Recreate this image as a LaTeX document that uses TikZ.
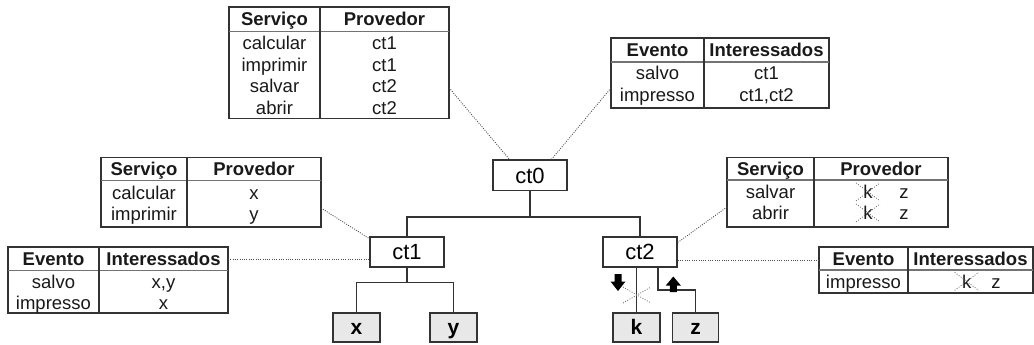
\documentclass[tikz,border=0pt]{standalone}
\usepackage{fontspec}
\setmainfont{Liberation Sans}
\usetikzlibrary{calc}
\newcommand{\mktable}[7]{%
  \node[tblframe, minimum width={(#4-#2)*1pt}, minimum height={(#7-#5)*1pt}] (#1) at ({(#2+#4)/2},{(#5+#7)/2}) {};
  \draw[hdrline] (#2,#6) -- (#4,#6);
  \draw[tblline] (#3,#5) -- (#3,#7);
}
\newcommand{\crossk}[2]{%
  \draw[cross] ({#1-12},{#2-9}) -- ({#1+12},{#2+9});
  \draw[cross] ({#1-12},{#2+9}) -- ({#1+12},{#2-9});
}
\begin{document}
\begin{tikzpicture}[x=1pt,y=-1pt,
  tblframe/.style={draw=black!80, line width=1.1pt, inner sep=0pt, outer sep=0pt},
  hdrline/.style={draw=black!55, line width=1.8pt},
  tblline/.style={draw=black!80, line width=1.1pt},
  hcell/.style={font=\fontsize{18.5}{20}\selectfont\bfseries, text=black!90, anchor=base, inner sep=0pt},
  bcell/.style={font=\fontsize{18.5}{20}\selectfont, text=black!90, anchor=base, inner sep=0pt},
  ctbox/.style={draw=black!80, line width=1.1pt, fill=white, minimum width=74pt, minimum height=30pt, inner sep=0pt, outer sep=0pt, text height=15.75pt, text depth=0pt, font=\fontsize{22}{24}\selectfont},
  leaf/.style={draw=black!80, line width=1.1pt, fill=black!9, minimum width=47pt, minimum height=29pt, inner sep=0pt, outer sep=0pt, text height=13pt, text depth=0pt, font=\fontsize{21}{23}\selectfont\bfseries},
  tree/.style={draw=black!80, line width=1.1pt},
  conn/.style={draw=black!70, line width=0.9pt, dash pattern=on 0.9pt off 1.4pt},
  cross/.style={draw=black!60, line width=0.8pt, dash pattern=on 0.9pt off 1.6pt},
  arr/.style={fill=black}]
\useasboundingbox (0,0) rectangle (1034,345);

% ---------- tables ----------
\mktable{T1}{229}{320}{449}{7}{31.5}{118.5}
\node[hcell] (T1h1) at (274.5,25.9) {Serviço};
\node[hcell] (T1h2) at (384.5,25.9) {Provedor};
\node[bcell] (T1a1) at (274.5,49.5) {calcular};
\node[bcell] (T1b1) at (384.5,49.5) {ct1};
\node[bcell] (T1a2) at (274.5,71) {imprimir};
\node[bcell] (T1b2) at (384.5,71) {ct1};
\node[bcell] (T1a3) at (274.5,92.5) {salvar};
\node[bcell] (T1b3) at (384.5,92.5) {ct2};
\node[bcell] (T1a4) at (274.5,114) {abrir};
\node[bcell] (T1b4) at (384.5,114) {ct2};

\mktable{T2}{611}{704}{829}{38}{62}{108}
\node[hcell] (T2h1) at (657.5,56.6) {Evento};
\node[hcell] (T2h2) at (766.5,56.6) {Interessados};
\node[bcell] (T2a1) at (657.5,80) {salvo};
\node[bcell] (T2b1) at (766.5,80) {ct1};
\node[bcell] (T2a2) at (657.5,101.5) {impresso};
\node[bcell] (T2b2) at (766.5,101.5) {ct1,ct2};

\mktable{T3}{101}{187}{321}{157.5}{180.5}{227}
\node[hcell] (T3h1) at (144,175.6) {Serviço};
\node[hcell] (T3h2) at (254,175.6) {Provedor};
\node[bcell] (T3a1) at (144,199) {calcular};
\node[bcell] (T3b1) at (254,199) {x};
\node[bcell] (T3a2) at (144,220) {imprimir};
\node[bcell] (T3b2) at (254,220) {y};

\mktable{T4}{727}{814}{948}{157.5}{180}{227}
\node[hcell] (T4h1) at (770.5,175.3) {Serviço};
\node[hcell] (T4h2) at (881,175.3) {Provedor};
\node[bcell] (T4a1) at (770.5,198.5) {salvar};
\node[bcell] (T4k1) at (868,198.5) {k};
\node[bcell] (T4z1) at (904,198.5) {z};
\node[bcell] (T4a2) at (770.5,219.5) {abrir};
\node[bcell] (T4k2) at (868,219.5) {k};
\node[bcell] (T4z2) at (904,219.5) {z};
\crossk{868}{191.9}
\crossk{868}{212.9}

\mktable{T5}{8}{99}{228}{247}{270.5}{313}
\node[hcell] (T5h1) at (53.5,265.3) {Evento};
\node[hcell] (T5h2) at (163.5,265.3) {Interessados};
\node[bcell] (T5a1) at (53.5,288.5) {salvo};
\node[bcell] (T5b1) at (163.5,288.5) {x,y};
\node[bcell] (T5a2) at (53.5,309.5) {impresso};
\node[bcell] (T5b2) at (163.5,309.5) {x};

\mktable{T6}{819}{908}{1033}{247}{270}{293}
\node[hcell] (T6h1) at (863.5,265) {Evento};
\node[hcell] (T6h2) at (970.5,265) {Interessados};
\node[bcell] (T6a1) at (863.5,288) {impresso};
\node[bcell] (T6k1) at (966.7,288) {k};
\node[bcell] (T6z1) at (996,288) {z};
\crossk{966.7}{281.4}

% ---------- tree nodes ----------
\node[ctbox, minimum height=30.5pt] (ct0) at (530,175.25) {ct0};
\node[ctbox] (ct1) at (407,252) {ct1};
\node[ctbox] (ct2) at (640,252) {ct2};
\node[leaf] (leafx) at (356.5,327.5) {x};
\node[leaf] (leafy) at (453.5,327.5) {y};
\node[leaf] (leafk) at (636.5,327.5) {k};
\node[leaf, minimum width=46pt] (leafz) at (695.5,327.5) {z};

% ---------- tree connectors ----------
\draw[tree] (ct0.south) -- ++(0,26.5) coordinate (j0);
\draw[tree] (ct1.north) |- (j0) -| (ct2.north);
\draw[tree] (ct1.south) -- ++(0,15.5) coordinate (j1);
\draw[tree] (leafx.north) |- (j1) -| (leafy.north);
\draw[tree] (ct2.south -| leafk.north) -- (leafk.north);
\draw[tree] ([xshift=18pt]ct2.south) -- ++(0,23) -| (leafz.north);

% crossed-out link to k
\draw[cross] (623,287) -- (651,303);
\draw[cross] (623,303) -- (651,287);

% arrows
\fill[arr] (614.5,274) -- (621.5,274) -- (621.5,281.5) -- (625.5,281.5) -- (618,291) -- (610.5,281.5) -- (614.5,281.5) -- cycle;
\fill[arr] (673.3,276.5) -- (680.8,285.5) -- (676.8,285.5) -- (676.8,292) -- (669.8,292) -- (669.8,285.5) -- (665.8,285.5) -- cycle;

% ---------- dotted connectors ----------
\draw[conn] ([yshift=-25pt]T1.east) -- ([xshift=-20pt]ct0.north);
\draw[conn] ([yshift=-15pt]T2.west) -- ([xshift=21pt]ct0.north);
\draw[conn] ([yshift=-15.75pt]T3.east) -- ([yshift=-2pt]ct1.north west);
\draw[conn] ([yshift=21pt]T5.east) -- ([yshift=-7pt]ct1.west);
\draw[conn] ([yshift=-14.75pt]T4.west) -- ([yshift=-6pt]ct2.north east);
\draw[conn] ([yshift=10pt]T6.west) -- ([yshift=-8pt]ct2.east);
\end{tikzpicture}
\end{document}
